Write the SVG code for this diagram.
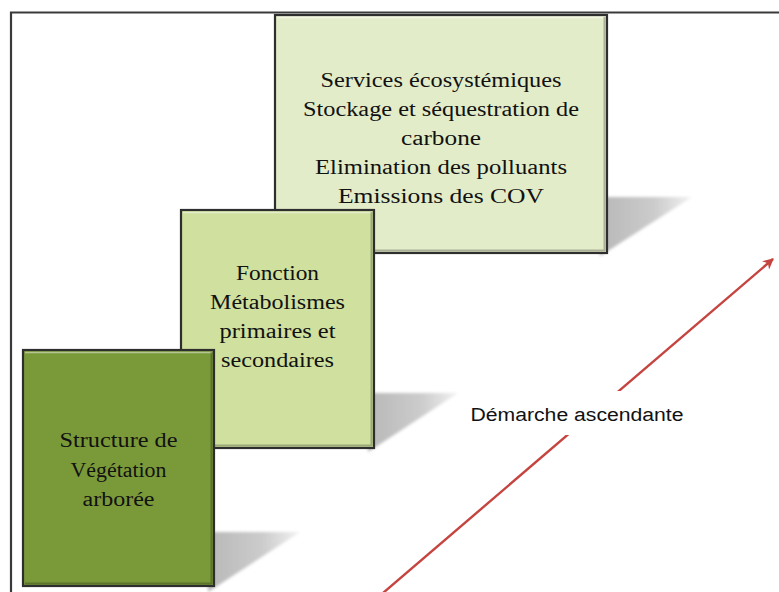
<svg xmlns="http://www.w3.org/2000/svg" width="779" height="592" viewBox="0 0 779 592">
<style>
.box{stroke:#2e2e2e;stroke-width:2.2}
.hl{fill:none;stroke:#ffffff;stroke-opacity:0.45;stroke-width:1.5}
.dk{fill:none;stroke:#000;stroke-opacity:0.25;stroke-width:2}
.t{font-family:"Liberation Serif","Times New Roman",serif;font-size:20px;fill:#111;text-anchor:middle}
.lbl{font-family:"Liberation Sans",Arial,sans-serif;font-size:18px;fill:#111;text-anchor:middle}
.frame{fill:none;stroke:#3a3a3a;stroke-width:2.2}
.arrow{fill:none;stroke:#c5443f;stroke-width:2.4}
.sh{fill:url(#shg);filter:url(#blur)}
</style>
<defs>
<linearGradient id="shg" x1="0" y1="0" x2="1" y2="0">
<stop offset="0" stop-color="#b8b8b8"/>
<stop offset="0.6" stop-color="#cccccc"/>
<stop offset="1" stop-color="#f2f2f2"/>
</linearGradient>
<filter id="blur" x="-10%" y="-10%" width="120%" height="120%">
<feGaussianBlur stdDeviation="1.5"/>
</filter>
<marker id="ah" viewBox="0 0 10 10" refX="9" refY="5" markerWidth="11" markerHeight="11" orient="auto" markerUnits="userSpaceOnUse">
<path d="M0,0 L10,5 L0,10 L3,5 Z" fill="#c5443f"/>
</marker>
</defs>
<rect width="779" height="592" fill="#ffffff"/>
<path class="frame" d="M11,592 V12.5 H779"/>

<g id="services">
<polygon class="sh" points="600,197 692,197 600,256"/>
<rect class="box" x="275" y="15" width="332" height="238" fill="#e3ecc9"/>
<path class="hl" d="M277,17.5 H605"/>
<path class="dk" d="M277,250.5 H605 M604.5,17 V251"/>
<text class="t" x="441" y="87" textLength="241" lengthAdjust="spacingAndGlyphs">Services écosystémiques</text>
<text class="t" x="441" y="116" textLength="276" lengthAdjust="spacingAndGlyphs">Stockage et séquestration de</text>
<text class="t" x="441" y="145" textLength="80" lengthAdjust="spacingAndGlyphs">carbone</text>
<text class="t" x="441" y="174" textLength="252" lengthAdjust="spacingAndGlyphs">Elimination des polluants</text>
<text class="t" x="441" y="203" textLength="206" lengthAdjust="spacingAndGlyphs">Emissions des COV</text>
</g>

<g id="fonction">
<polygon class="sh" points="368,393 458,393 368,452"/>
<rect class="box" x="181" y="210" width="193" height="238" fill="#cfe09f"/>
<path class="hl" d="M183,212.5 H372"/>
<path class="dk" d="M183,445.5 H372 M371.5,212 V446"/>
<text class="t" x="277.5" y="280" textLength="83" lengthAdjust="spacingAndGlyphs">Fonction</text>
<text class="t" x="277.5" y="309" textLength="135" lengthAdjust="spacingAndGlyphs">Métabolismes</text>
<text class="t" x="277.5" y="338" textLength="116" lengthAdjust="spacingAndGlyphs">primaires et</text>
<text class="t" x="277.5" y="367" textLength="113" lengthAdjust="spacingAndGlyphs">secondaires</text>
</g>

<g id="structure">
<polygon class="sh" points="208,532 300,532 208,592"/>
<rect class="box" x="23" y="350" width="191" height="236" fill="#7a9a3a"/>
<path class="hl" d="M25,352.5 H212"/>
<path class="dk" d="M25,583.5 H212 M211.5,352 V584"/>
<text class="t" x="118.5" y="447" textLength="118" lengthAdjust="spacingAndGlyphs">Structure de</text>
<text class="t" x="118.5" y="477" textLength="96" lengthAdjust="spacingAndGlyphs">Végétation</text>
<text class="t" x="118.5" y="506" textLength="72" lengthAdjust="spacingAndGlyphs">arborée</text>
</g>

<g id="connectors">
<path class="arrow" d="M383,593 L773,259" marker-end="url(#ah)"/>
<g id="demarche">
<rect x="462" y="391" width="226" height="44" fill="#ffffff"/>
<text class="lbl" x="577" y="421" textLength="213" lengthAdjust="spacingAndGlyphs">Démarche ascendante</text>
</g>
</g>
</svg>
